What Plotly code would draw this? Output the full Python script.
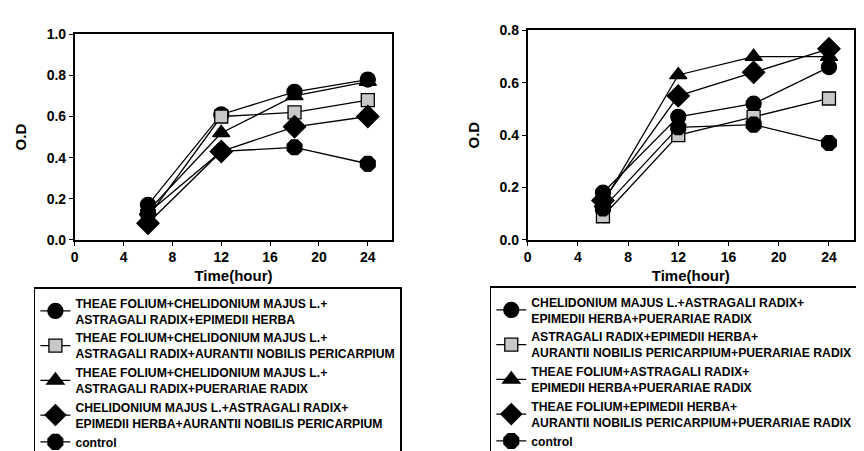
import plotly.graph_objects as go

hours = [6, 12, 18, 24]

left_names = [
    "THEAE FOLIUM+CHELIDONIUM MAJUS L.+<br>ASTRAGALI RADIX+EPIMEDII HERBA",
    "THEAE FOLIUM+CHELIDONIUM MAJUS L.+<br>ASTRAGALI RADIX+AURANTII NOBILIS PERICARPIUM",
    "THEAE FOLIUM+CHELIDONIUM MAJUS L.+<br>ASTRAGALI RADIX+PUERARIAE RADIX",
    "CHELIDONIUM MAJUS L.+ASTRAGALI RADIX+<br>EPIMEDII HERBA+AURANTII NOBILIS PERICARPIUM",
    "control",
]
left_circle = [0.17, 0.61, 0.72, 0.78]
left_square = [0.11, 0.60, 0.62, 0.68]
left_triangle = [0.14, 0.52, 0.70, 0.77]
left_diamond = [0.08, 0.43, 0.55, 0.60]
left_control = [0.13, 0.43, 0.45, 0.37]

right_names = [
    "CHELIDONIUM MAJUS L.+ASTRAGALI RADIX+<br>EPIMEDII HERBA+PUERARIAE RADIX",
    "ASTRAGALI RADIX+EPIMEDII HERBA+<br>AURANTII NOBILIS PERICARPIUM+PUERARIAE RADIX",
    "THEAE FOLIUM+ASTRAGALI RADIX+<br>EPIMEDII HERBA+PUERARIAE RADIX",
    "THEAE FOLIUM+EPIMEDII HERBA+<br>AURANTII NOBILIS PERICARPIUM+PUERARIAE RADIX",
    "control",
]
right_circle = [0.18, 0.47, 0.52, 0.66]
right_square = [0.09, 0.40, 0.47, 0.54]
right_triangle = [0.14, 0.63, 0.70, 0.70]
right_diamond = [0.15, 0.55, 0.64, 0.73]
right_control = [0.12, 0.43, 0.44, 0.37]

x_ticks = [0, 4, 8, 12, 16, 20, 24]
left_y_ticks = [0.0, 0.2, 0.4, 0.6, 0.8, 1.0]
right_y_ticks = [0.0, 0.2, 0.4, 0.6, 0.8]

symbols = ["circle", "square", "triangle-up", "diamond", "octagon"]
fills = ["black", "#c8c8c8", "black", "black", "black"]
sizes = [15, 13, 15, 17, 16]

FONT = "Liberation Sans, Arial, sans-serif"

fig = go.Figure()

left_series = [left_circle, left_square, left_triangle, left_diamond, left_control]
right_series = [right_circle, right_square, right_triangle, right_diamond, right_control]

for i, (name, vals) in enumerate(zip(left_names, left_series)):
    fig.add_trace(go.Scatter(
        x=hours, y=vals, name=name, mode="lines+markers",
        line=dict(color="black", width=1.3),
        marker=dict(symbol=symbols[i], size=sizes[i], color=fills[i],
                    line=dict(color="black", width=1.3)),
        xaxis="x", yaxis="y", legend="legend",
    ))

for i, (name, vals) in enumerate(zip(right_names, right_series)):
    fig.add_trace(go.Scatter(
        x=hours, y=vals, name=name, mode="lines+markers",
        line=dict(color="black", width=1.3),
        marker=dict(symbol=symbols[i], size=sizes[i], color=fills[i],
                    line=dict(color="black", width=1.3)),
        xaxis="x2", yaxis="y2", legend="legend2",
    ))

W, H = 864, 451

def px_x(p):
    return p / W

def px_y(p):
    return 1 - p / H

axis_common = dict(
    showline=True, linecolor="black", linewidth=1.5, mirror=True,
    showgrid=False, zeroline=False, ticks="outside", ticklen=4,
    tickcolor="black", tickwidth=1.2,
    tickfont=dict(family=FONT, size=14, color="black", weight="bold"),
)

legend_common = dict(
    bordercolor="black", borderwidth=1.5, bgcolor="white",
    font=dict(family=FONT, size=12.2, color="black", weight="bold"),
    xanchor="left", yanchor="top", orientation="v",
    traceorder="normal",
)

title_font = dict(family=FONT, size=15, color="black", weight="bold")

fig.update_layout(
    width=W, height=H,
    margin=dict(l=0, r=0, t=0, b=0),
    paper_bgcolor="white", plot_bgcolor="white",
    showlegend=True,
    xaxis=dict(domain=[px_x(63), px_x(382)], range=[0, 26], tickvals=x_ticks,
               anchor="y",
               title=dict(text="Time(hour)", standoff=6, font=title_font),
               **axis_common),
    yaxis=dict(domain=[px_y(232), px_y(19)], range=[0, 1.0], tickvals=left_y_ticks,
               tickformat=".1f", anchor="x",
               title=dict(text="O.D", standoff=16, font=title_font),
               **axis_common),
    xaxis2=dict(domain=[px_x(518), px_x(846)], range=[0, 26], tickvals=x_ticks,
                anchor="y2",
                title=dict(text="Time(hour)", standoff=6, font=title_font),
                **axis_common),
    yaxis2=dict(domain=[px_y(232), px_y(15)], range=[0, 0.8], tickvals=right_y_ticks,
                tickformat=".1f", anchor="x2",
                title=dict(text="O.D", standoff=16, font=title_font),
                **axis_common),
    legend=dict(x=px_x(22), y=px_y(281), **legend_common),
    legend2=dict(x=px_x(480), y=px_y(280), **legend_common),
)

fig.write_html("out.html")
